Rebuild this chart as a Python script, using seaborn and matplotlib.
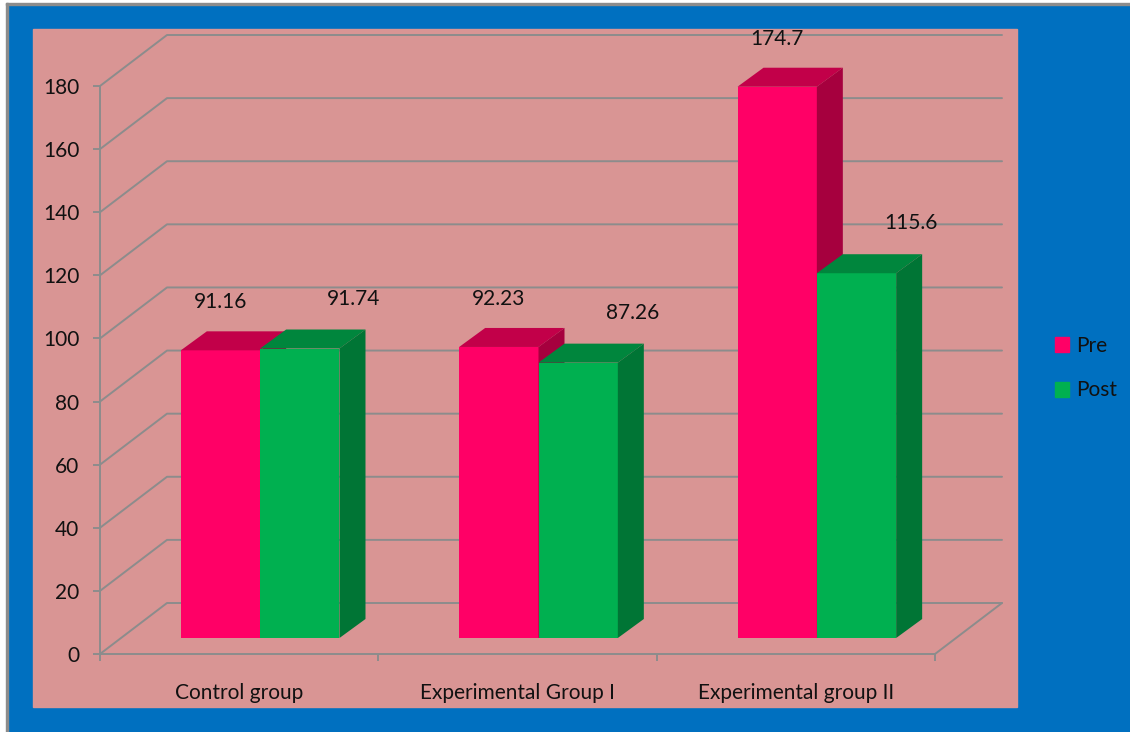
import numpy as np
import pandas as pd
import matplotlib
matplotlib.use("Agg")
import matplotlib.pyplot as plt
import seaborn as sns
from matplotlib.patches import Rectangle, Polygon

# ---------------- data ----------------
categories = ["Control group", "Experimental Group I", "Experimental group II"]
series = ["Pre", "Post"]
pre_values = [91.16, 92.23, 174.7]
post_values = [91.74, 87.26, 115.6]
pre_labels = ["91.16", "92.23", "174.7"]
post_labels = ["91.74", "87.26", "115.6"]
y_ticks = [0, 20, 40, 60, 80, 100, 120, 140, 160, 180]

df = pd.DataFrame({
    "group": categories * 2,
    "series": ["Pre"] * 3 + ["Post"] * 3,
    "value": pre_values + post_values,
})

# ---------------- style ----------------
sns.set_theme(style="white")
plt.rcParams["font.family"] = ["Lato", "DejaVu Sans"]
TXT = "#111111"
FS = 15

W, H, DPI = 1130, 732, 100
fig = plt.figure(figsize=(W / DPI, H / DPI), dpi=DPI)
fig.patch.set_facecolor("#0070C0")

def fr(x0, y0, x1, y1):
    """pixel box (top-left origin) -> figure fraction rect"""
    return [x0 / W, 1 - y1 / H, (x1 - x0) / W, (y1 - y0) / H]

# white margin + gray frame on top / left
fig.add_artist(Rectangle((0, 0), 6 / W, 1, transform=fig.transFigure, color="white", zorder=-3))
fig.add_artist(Rectangle((0, 1 - 3 / H), 1, 3 / H, transform=fig.transFigure, color="white", zorder=-3))
fig.add_artist(Rectangle((6 / W, 0), 2 / W, 1 - 3 / H, transform=fig.transFigure, color="#8C8C8C", zorder=-2))
fig.add_artist(Rectangle((6 / W, 1 - 5 / H), 1, 2 / H, transform=fig.transFigure, color="#8C8C8C", zorder=-2))

# pink chart panel
px = fr(33, 29, 1017, 707)
fig.add_artist(Rectangle((px[0], px[1]), px[2], px[3], transform=fig.transFigure,
                         color="#D99594", zorder=-1))

PINK_F, PINK_T, PINK_S = "#FF0066", "#C20049", "#A6003E"
GREEN_F, GREEN_T, GREEN_S = "#00B050", "#00863D", "#007535"
GRID = "#8C8C8C"

# front plane axes: x -0.5..2.5 spans px 100..935, y 0..180 spans px 654..86
ax = fig.add_axes(fr(100, 86, 935, 654))
ax.set_zorder(1)
ax.set_facecolor("none")
ax.set_xlim(-0.5, 2.5)
ax.set_ylim(0, 180)

# bar axes: shifted into depth
ax2 = fig.add_axes(fr(100 + 21, 86 - 16, 935 + 21, 654 - 16))
ax2.set_zorder(2)
ax2.set_facecolor("none")

sns.barplot(data=df, x="group", y="value", hue="series", order=categories,
            hue_order=series, palette={"Pre": PINK_F, "Post": GREEN_F},
            width=0.57, dodge=True, ax=ax2, legend=False, saturation=1)
ax2.set_xlim(-0.5, 2.5)
ax2.set_ylim(0, 180)
ax2.axis("off")

# ---------------- back wall / floor ----------------
dpx, dpy = 67, 51  # depth offset in pixels (display: y up)

def to_disp(a, pts):
    return a.transData.transform(np.asarray(pts, dtype=float))

def from_disp(a, pts):
    return a.transData.inverted().transform(np.asarray(pts, dtype=float))

for v in y_ticks:
    p0 = to_disp(ax, [(-0.5, v)])[0]
    pb = p0 + [dpx, dpy]
    pr = to_disp(ax, [(2.5, v)])[0] + [dpx, dpy]
    pts = from_disp(ax, [p0, pb, pr])
    ax.plot(pts[:, 0], pts[:, 1], color=GRID, lw=1.4, clip_on=False, zorder=1)
# right floor diagonal
pf = to_disp(ax, [(2.5, 0)])[0]
pts = from_disp(ax, [pf, pf + [dpx, dpy]])
ax.plot(pts[:, 0], pts[:, 1], color=GRID, lw=1.4, clip_on=False, zorder=1)

# axes spines / ticks
for s in ["top", "right"]:
    ax.spines[s].set_visible(False)
ax.spines["left"].set_color(GRID)
ax.spines["bottom"].set_color(GRID)
ax.spines["left"].set_linewidth(1.4)
ax.spines["bottom"].set_linewidth(1.4)
ax.set_yticks(y_ticks)
ax.set_yticklabels([str(v) for v in y_ticks], fontsize=FS, color=TXT)
ax.tick_params(axis="y", direction="out", length=5, width=1.4, color=GRID, pad=10, left=True)
ax.set_xticks(range(len(categories)))
ax.set_xticklabels(categories, fontsize=FS, color=TXT)
ax.tick_params(axis="x", which="major", length=0, pad=21)
ax.set_xticks([-0.5, 0.5, 1.5, 2.5], minor=True)
ax.tick_params(axis="x", which="minor", direction="out", length=5, width=1.4, color=GRID, bottom=True)
ax.set_xlabel("")
ax.set_ylabel("")
ax.grid(False)

# ---------------- 3D faces on bars ----------------
sx, sy = 26, 19
n = len(categories)
pre_patches = ax2.patches[:n]
post_patches = ax2.patches[n:2 * n]

def add_faces(patch, top_c, side_c, z):
    x0, y0 = patch.get_x(), patch.get_y()
    w, h = patch.get_width(), patch.get_height()
    d = to_disp(ax2, [(x0, y0 + h), (x0 + w, y0 + h), (x0 + w, y0)])
    tl, tr, br = d
    off = np.array([sx, sy])
    top = from_disp(ax2, [tl, tr, tr + off, tl + off])
    side = from_disp(ax2, [br, tr, tr + off, br + off])
    ax2.add_patch(Polygon(top, closed=True, facecolor=top_c, edgecolor="none", zorder=z, clip_on=False))
    ax2.add_patch(Polygon(side, closed=True, facecolor=side_c, edgecolor="none", zorder=z, clip_on=False))

for p in pre_patches:
    p.set_zorder(2)
    p.set_edgecolor("none")
    add_faces(p, PINK_T, PINK_S, 2.5)
for p in post_patches:
    p.set_zorder(3)
    p.set_edgecolor("none")
    add_faces(p, GREEN_T, GREEN_S, 3.5)

# ---------------- value labels ----------------
for p, lab in zip(pre_patches, pre_labels):
    ax2.annotate(lab, (p.get_x() + p.get_width() / 2, p.get_height()),
                 xytext=(0, 38), textcoords="offset pixels", ha="center", va="bottom",
                 fontsize=FS, color=TXT, annotation_clip=False)
for p, lab in zip(post_patches, post_labels):
    ax2.annotate(lab, (p.get_x() + p.get_width() / 2, p.get_height()),
                 xytext=(54, 40), textcoords="offset pixels", ha="center", va="bottom",
                 fontsize=FS, color=TXT, annotation_clip=False)

# ---------------- legend ----------------
handles = [Rectangle((0, 0), 1, 1, color=PINK_F), Rectangle((0, 0), 1, 1, color=GREEN_F)]
fig.legend(handles, series, loc="center left", bbox_to_anchor=(1036 / W, 1 - 368 / H),
           frameon=False, fontsize=FS, handlelength=0.7, handleheight=0.7,
           handletextpad=0.35, labelspacing=1.2, labelcolor=TXT)

fig.savefig("out.png", dpi=DPI, facecolor=fig.get_facecolor())
